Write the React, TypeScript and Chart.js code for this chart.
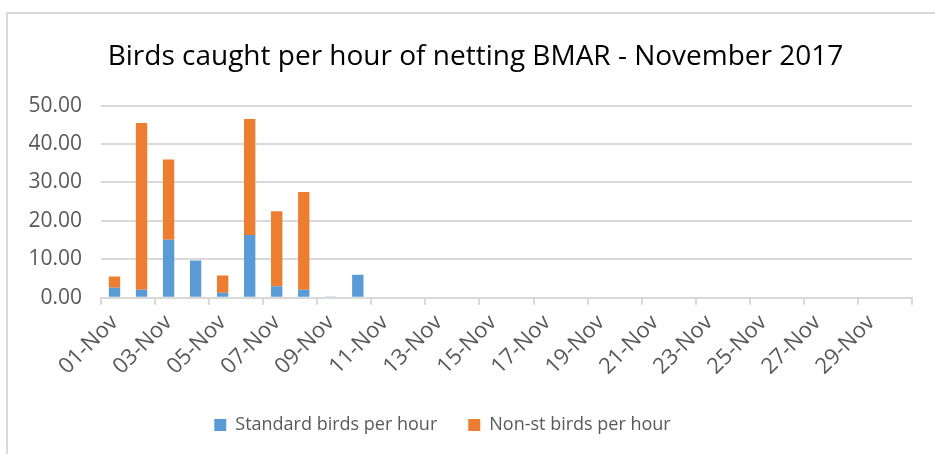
import React, { useEffect, useRef } from "react";
import { Chart, registerables } from "chart.js";

Chart.register(...registerables);

const days: string[] = Array.from({ length: 30 }, (_, i) => `${String(i + 1).padStart(2, "0")}-Nov`);
const standardPerHour: number[] = [2.6, 2.1, 15.1, 9.7, 1.3, 16.3, 3.0, 2.1, 0.3, 6.0, 0, 0, 0, 0, 0, 0, 0, 0, 0, 0, 0, 0, 0, 0, 0, 0, 0, 0, 0, 0];
const nonStPerHour: number[] = [2.9, 43.4, 20.9, 0, 4.5, 30.2, 19.5, 25.4, 0, 0, 0, 0, 0, 0, 0, 0, 0, 0, 0, 0, 0, 0, 0, 0, 0, 0, 0, 0, 0, 0];
const yTicks: number[] = [0, 10, 20, 30, 40, 50];

const FONT = "'Open Sans', 'DejaVu Sans', sans-serif";
const GRID = "#d9d9d9";
const TEXT = "#595959";
const TITLE_SHIFT = 14.5;
const LEGEND_SHIFT = -18.5;

const shiftPlugin = {
  id: "shiftBlocks",
  afterLayout(chart: any) {
    const t = chart.titleBlock;
    if (t) {
      t.left += TITLE_SHIFT;
      t.right += TITLE_SHIFT;
    }
    const l = chart.legend;
    if (l) {
      l.left += LEGEND_SHIFT;
      l.right += LEGEND_SHIFT;
    }
  },
};

export default function App() {
  const ref = useRef<HTMLCanvasElement | null>(null);
  useEffect(() => {
    if (!ref.current) return;
    const chart = new Chart(ref.current, {
      type: "bar",
      data: {
        labels: days,
        datasets: [
          { label: "Standard birds per hour", data: standardPerHour, backgroundColor: "#5B9BD5", barPercentage: 0.42, categoryPercentage: 1 },
          { label: "Non-st birds per hour", data: nonStPerHour, backgroundColor: "#ED7D31", barPercentage: 0.42, categoryPercentage: 1 },
        ],
      },
      plugins: [shiftPlugin],
      options: {
        animation: false,
        responsive: true,
        maintainAspectRatio: false,
        layout: { padding: { top: 40, left: 10, right: 23, bottom: 10 } },
        plugins: {
          title: {
            display: true,
            text: "Birds caught per hour of netting BMAR - November 2017",
            color: "#000",
            font: { family: FONT, size: 28, weight: "normal" },
            padding: { top: 0, bottom: 32 },
          },
          legend: {
            position: "bottom",
            labels: {
              color: TEXT,
              font: { family: FONT, size: 18 },
              boxWidth: 12,
              boxHeight: 12,
              padding: 31,
            },
          },
          tooltip: { enabled: false },
        },
        scales: {
          x: {
            stacked: true,
            grid: {
              offset: true,
              drawOnChartArea: false,
              tickLength: 7,
              color: (ctx: any) => (ctx.type !== "tick" || ctx.index % 2 === 0 ? GRID : "rgba(0,0,0,0)"),
              lineWidth: 2,
            },
            border: { color: GRID, width: 2 },
            ticks: {
              autoSkip: false,
              maxRotation: 45,
              minRotation: 45,
              color: TEXT,
              font: { family: FONT, size: 22 },
              callback: (_v: any, i: number) => (i % 2 === 0 ? days[i] : ""),
              padding: 5,
            },
          },
          y: {
            stacked: true,
            min: 0,
            max: 50,
            afterBuildTicks: (scale: any) => {
              scale.ticks = yTicks.map((v) => ({ value: v }));
            },
            afterFit: (scale: any) => {
              scale.width = 91;
            },
            grid: { color: GRID, lineWidth: 2, drawTicks: false },
            border: { display: false },
            ticks: {
              color: TEXT,
              font: { family: FONT, size: 21 },
              padding: 19,
              callback: (v: any) => Number(v).toFixed(2),
            },
          },
        },
      },
    });
    return () => chart.destroy();
  }, []);
  return (
    <div style={{ position: "absolute", left: 0, top: 0, width: 935, height: 454, background: "#fff", overflow: "hidden" }}>
      <div style={{ position: "absolute", left: 6, top: 12, width: 960, height: 500, borderLeft: `2px solid ${GRID}`, borderTop: `2px solid ${GRID}` }} />
      <canvas ref={ref} style={{ position: "absolute", left: 0, top: 0 }} />
    </div>
  );
}
